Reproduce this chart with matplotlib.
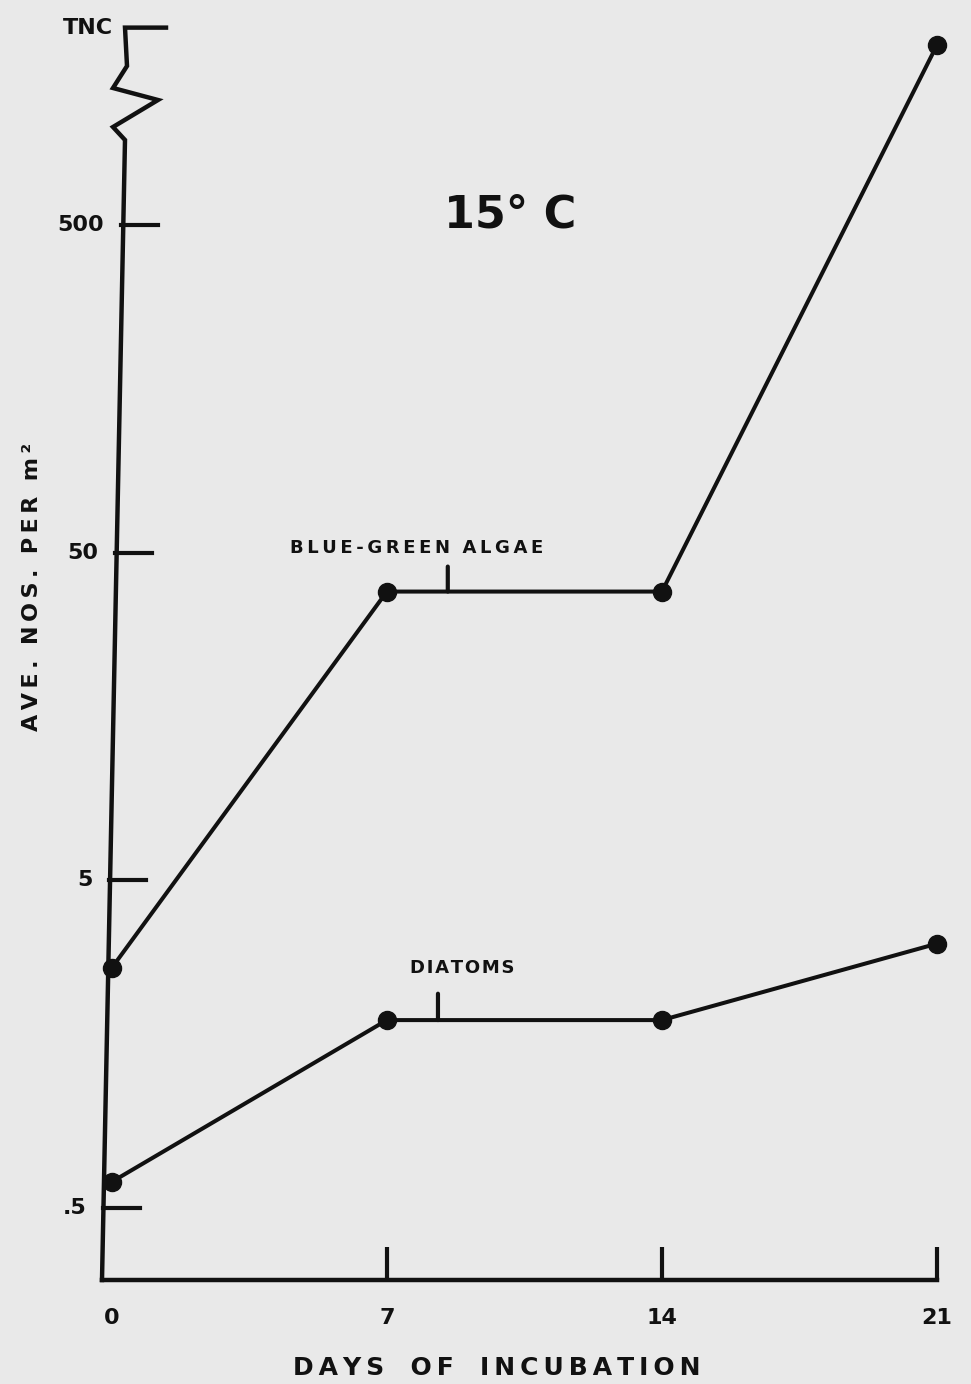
import matplotlib.pyplot as plt
from matplotlib.transforms import blended_transform_factory

# data (15 C incubation)
days = [0, 7, 14, 21]
blue_green = [2.7, 38, 38, 1770]
diatoms = [0.6, 1.87, 1.87, 3.2]
ytick_vals = [0.5, 5, 50, 500]
ytick_labels = ['.5', '5', '50', '500']
tnc_level = 2000
xtick_labels = ['0', '7', '14', '21']

W, H = 971, 1384
BG = '#e9e9e9'
INK = '#111111'


def fx(px):
  return px / W


def fy(py):
  return 1 - py / H


def spaced(s, gap='\u2009', word_gap='   '):
  # hand-lettered look: a thin gap between letters, wider between words
  return word_gap.join(gap.join(w) for w in s.split(' '))


def axis_x(py):
  # the hand-drawn y axis leans a little to the left going down
  return 125 - 23 * (py - 26) / 1254


plt.rcParams['font.family'] = ['DejaVu Sans']
plt.rcParams['font.weight'] = 'bold'

fig = plt.figure(figsize=(W / 100, H / 100), dpi=100, facecolor=BG)
ax = fig.add_axes([fx(102), fy(1280), fx(937) - fx(102), fy(20) - fy(1280)])
ax.set_facecolor('none')
ax.set_yscale('log')
ax.set_xlim(-0.25, 21)
ax.set_ylim(0.301, 2110)

for side in ['left', 'top', 'right']:
  ax.spines[side].set_visible(False)
ax.spines['bottom'].set_linewidth(3.2)
ax.spines['bottom'].set_color(INK)

# x ticks point upward into the plot
ax.set_xticks(days)
ax.set_xticklabels(xtick_labels)
ax.tick_params(axis='x', direction='in', length=24, width=3, pad=20,
               labelsize=16, colors=INK)
ax.xaxis.get_major_ticks()[0].tick1line.set_visible(False)
ax.set_yticks([])
ax.minorticks_off()


def ypix(v):
  return H - ax.transData.transform((0, v))[1]


# y axis drawn by hand, with the break below TNC
pts = [(166, ypix(tnc_level)), (125, ypix(tnc_level)), (127, 66), (113, 88),
       (158, 100), (113, 127), (125, 140), (102, 1280)]
ax.plot([fx(p[0]) for p in pts], [fy(p[1]) for p in pts], color=INK, lw=3.2,
        transform=fig.transFigure, clip_on=False, solid_joinstyle='miter')

bt = blended_transform_factory(fig.transFigure, ax.transData)
for v, lab in zip(ytick_vals, ytick_labels):
  x0 = axis_x(ypix(v))
  ax.plot([fx(x0), fx(x0 + 37)], [v, v], color=INK, lw=3, transform=bt,
          clip_on=False)
  ax.text(fx(x0 - 17), v, lab, transform=bt, ha='right', va='center',
          fontsize=16, color=INK)
ax.text(fx(113), tnc_level, 'TNC', transform=bt, ha='right', va='center',
        fontsize=16, color=INK)

# the two series
for series in [blue_green, diatoms]:
  ax.plot(days, series, '-o', color=INK, lw=2.9, ms=13, clip_on=False)

# labels with short leader lines onto the flat 7-14 day segment
ax.annotate('', xy=(8.55, blue_green[1]), xytext=(0, 18),
            textcoords='offset points',
            arrowprops=dict(arrowstyle='-', lw=3, color=INK, shrinkA=0, shrinkB=0))
fig.text(fx(417), fy(548), spaced('BLUE-GREEN ALGAE', '\u2009', '  '),
         ha='center', va='center', fontsize=13, color=INK)
ax.annotate('', xy=(8.3, diatoms[1]), xytext=(0, 19),
            textcoords='offset points',
            arrowprops=dict(arrowstyle='-', lw=3, color=INK, shrinkA=0, shrinkB=0))
fig.text(fx(462), fy(968), spaced('DIATOMS', '\u200a'), ha='center',
         va='center', fontsize=13, color=INK)

fig.text(fx(510), fy(215), '15\u00b0 C', ha='center', va='center',
         fontsize=32, color=INK)

fig.text(fx(32), fy(587), spaced('AVE. NOS. PER m\u00b2', '\u2009', '  '),
         rotation=90, ha='center', va='center', fontsize=16, color=INK)
fig.text(fx(497), fy(1368), spaced('DAYS OF INCUBATION'), ha='center',
         va='center', fontsize=18, color=INK)

fig.savefig('out.png', dpi=100, facecolor=BG)
